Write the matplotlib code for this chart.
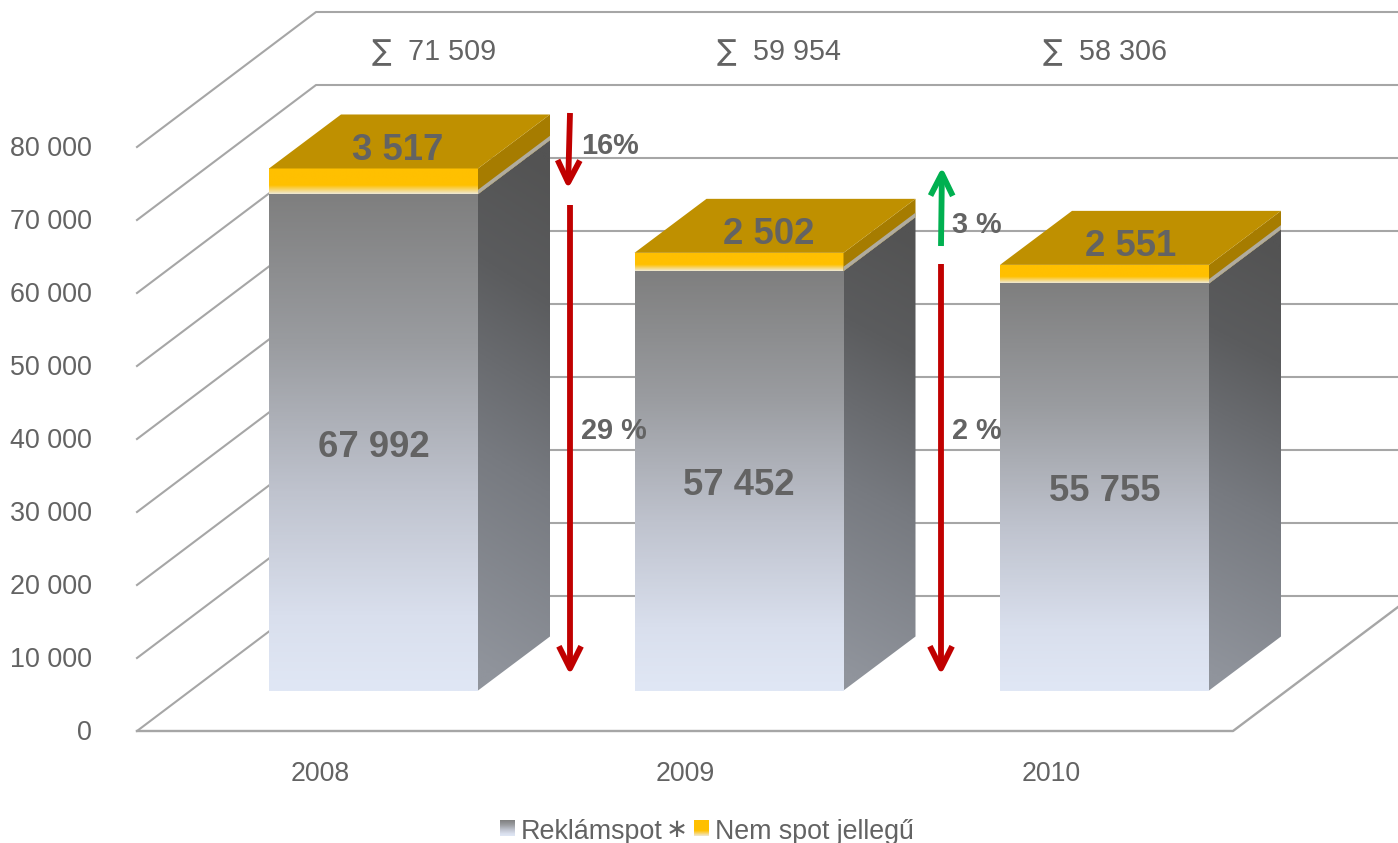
import numpy as np
import matplotlib
matplotlib.use('Agg')
import matplotlib.pyplot as plt
from matplotlib.colors import LinearSegmentedColormap
from matplotlib.patches import Polygon

plt.rcParams['font.family'] = ['Liberation Sans', 'DejaVu Sans']

years = ['2008', '2009', '2010']
reklamspot = [67992, 57452, 55755]
nem_spot = [3517, 2502, 2551]
osszes = ['71 509', '59 954', '58 306']
reklam_labels = ['67 992', '57 452', '55 755']
nem_spot_labels = ['3 517', '2 502', '2 551']
y_ticks = [0, 10000, 20000, 30000, 40000, 50000, 60000, 70000, 80000]
y_tick_labels = ['0', '10 000', '20 000', '30 000', '40 000', '50 000', '60 000', '70 000', '80 000']
pct_labels = ['16%', '29 %', '3 %', '2 %']

GREY = '#a6a6a6'
TEXT = '#636363'
RED = '#c00000'
GREEN = '#00b050'

# x axis is in pixels, y axis is in chart units (0 = foot of the bars)
PX = 0.0073  # pixels per unit
BASE = 690.5


def px(y_pixel):
    return (BASE - y_pixel) / PX


fig = plt.figure(figsize=(13.98, 8.43), dpi=100)
ax = fig.add_axes([0, 0, 1, 1])
ax.axis('off')
xlim = (0, 1398)
ylim = (px(843), px(0))

front_ofs = px(731)
back_ofs = px(596)
depth_y = 54 / PX
depth_x = 72

# walls and floor
for t in y_ticks:
    ax.plot([137, 316, 1398], [front_ofs + t, back_ofs + t, back_ofs + t], color=GREY, lw=1.5, zorder=1)
ax.plot([137, 1233, 1398], [front_ofs, front_ofs, px(607)], color=GREY, lw=1.7, zorder=1)

for t, lab in zip(y_ticks, y_tick_labels):
    ax.text(92, front_ofs + t - 2 / PX, lab, ha='right', va='center', fontsize=19.4, color=TEXT)

reklam_front = LinearSegmentedColormap.from_list('rf', [(0, '#7f7f7f'), (0.3, '#9a9ca0'), (0.6, '#bfc3ce'), (0.85, '#d9dfed'), (1, '#e0e7f5')])
reklam_side = LinearSegmentedColormap.from_list('rs', [(0, '#535353'), (0.25, '#5b5c5e'), (0.6, '#777a80'), (1, '#90949c')])
nem_front = LinearSegmentedColormap.from_list('nf', [(0, '#ffc000'), (0.66, '#ffc000'), (1, '#efe9d6')])


def face(corners, cmap, z, shear=0.0):
    xs = [c[0] for c in corners]
    ys = [c[1] for c in corners]
    v = np.linspace(0, 1, 200)[:, None]
    u = np.linspace(0, 1, 40)[None, :]
    im = ax.imshow(np.clip(v + shear * (u - 0.5), 0, 1), cmap=cmap, vmin=0, vmax=1, aspect='auto',
                   extent=(min(xs), max(xs), min(ys), max(ys)), origin='upper', zorder=z,
                   interpolation='bilinear')
    im.set_clip_path(Polygon(corners, transform=ax.transData))


def sheared(x1, low, high):
    return [(x1, low), (x1 + depth_x, low + depth_y), (x1 + depth_x, high + depth_y), (x1, high)]


x_left = [269, 634.5, 1000]
top_label_x = [398, 769, 1131]
sum_x = [408, 753, 1079]
bar_w = 209
for i in range(3):
    x0 = x_left[i]
    x1 = x0 + bar_w
    r = reklamspot[i]
    top = r + nem_spot[i]
    z = 3 + i

    face([(x0, 0), (x1, 0), (x1, r), (x0, r)], reklam_front, z)
    face(sheared(x1, 0, r), reklam_side, z, shear=-0.08)
    face([(x0, r), (x1, r), (x1, top), (x0, top)], nem_front, z)
    # top band of the side: drawn flat, with a thin fade strip under it
    ax.add_patch(Polygon(sheared(x1, r, top), facecolor='#a67c00', edgecolor='none', zorder=z))
    ax.add_patch(Polygon(sheared(x1, r, r + 600), facecolor='#b0aca0', edgecolor='none', zorder=z))
    ax.add_patch(Polygon([(x0, top), (x1, top), (x1 + depth_x, top + depth_y), (x0 + depth_x, top + depth_y)],
                         facecolor='#bf9000', edgecolor='none', zorder=z))

    ax.text(top_label_x[i], top + 18 / PX, nem_spot_labels[i], ha='center', va='center',
            fontsize=26.3, fontweight='bold', color=TEXT, zorder=10)
    ax.text((x0 + x1) / 2, px(447) + (r - reklamspot[0]) / 2, reklam_labels[i], ha='center', va='center',
            fontsize=26.3, fontweight='bold', color=TEXT, zorder=10)
    ax.text(x0 + 51, px(774), years[i], ha='center', va='center', fontsize=19.2, color=TEXT)
    ax.text(sum_x[i] - 17, px(52), '\u2211', ha='right', va='center', fontsize=21, color=TEXT, family=['DejaVu Sans'])
    ax.text(sum_x[i], px(52), osszes[i], ha='left', va='center', fontsize=20.7, color=TEXT)


def arrow(x_a, y_a, x_b, y_b, color):
    ax.annotate('', xy=(x_b, px(y_b)), xytext=(x_a, px(y_a)), zorder=11,
                arrowprops=dict(arrowstyle='->,head_length=1.0,head_width=0.5', color=color, lw=4.2,
                                shrinkA=0, shrinkB=0, mutation_scale=16, capstyle='butt'))


arrow(570, 113, 568, 189, RED)
arrow(570, 205, 570, 675, RED)
arrow(941, 246, 942, 167, GREEN)
arrow(941, 264, 941, 675, RED)

pct_x = [581, 581, 952, 952]
pct_y = [146, 431, 225, 431]
for lab, x, y in zip(pct_labels, pct_x, pct_y):
    ax.text(x, px(y), lab, ha='left', va='center', fontsize=20.8, fontweight='bold', color=TEXT, zorder=12)

# legend
face([(500, px(836)), (515, px(836)), (515, px(820)), (500, px(820))], reklam_front, 5)
face([(694, px(836)), (709, px(836)), (709, px(820)), (694, px(820))], nem_front, 5)
ax.text(521, px(839), 'Reklámspot', ha='left', va='baseline', fontsize=19.4, color=TEXT)
ax.text(677, px(837), '\u2217', ha='center', va='baseline', fontsize=19, color=TEXT, family=['DejaVu Sans'])
ax.text(715, px(839), 'Nem spot jellegű', ha='left', va='baseline', fontsize=19.3, color=TEXT)

ax.set_xlim(xlim)
ax.set_ylim(ylim)
fig.savefig('out.png', dpi=100)
